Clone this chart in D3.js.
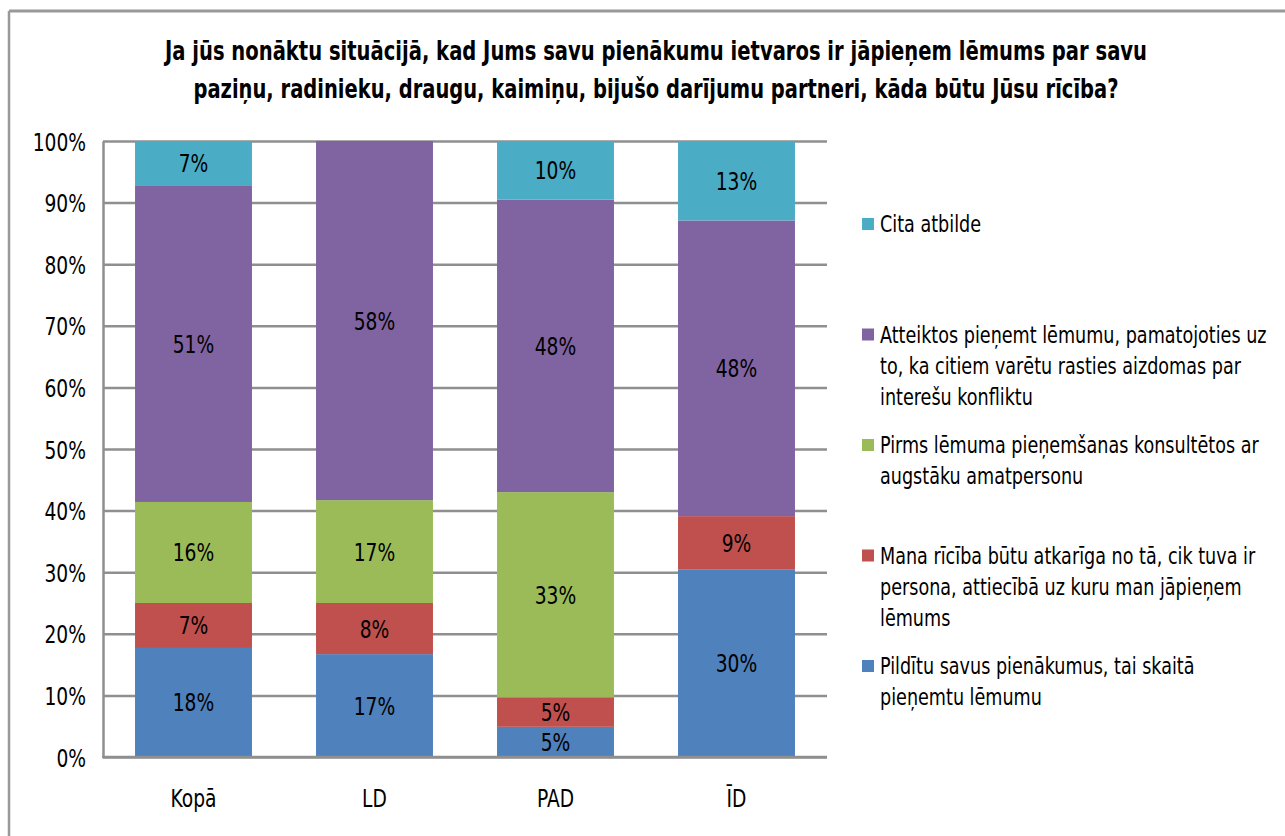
<!DOCTYPE html>
<html>
<head>
<meta charset="utf-8">
<script src="https://cdn.jsdelivr.net/npm/d3@7"></script>
<style>
  body { margin: 0; background: #fff; }
  text { font-family: "DejaVu Sans Condensed", "DejaVu Sans", sans-serif; fill: #000; }
</style>
</head>
<body>
<div id="VizBox"></div>
<script>

var categories = ["Kopā", "LD", "PAD", "ĪD"];

// shares in %
var pilditu   = [17.7, 16.7, 4.9, 30.4];
var mana      = [7.3, 8.3, 4.8, 8.7];
var pirms     = [16.4, 16.7, 33.3, 0];
var atteiktos = [51.3, 58.3, 47.5, 48.0];
var cita      = [7.3, 0, 9.5, 12.9];

var seriesNames = ["Pildītu", "Mana", "Pirms", "Atteiktos", "Cita"];
var seriesColors = ["#4F81BD", "#C0504D", "#9BBB59", "#8064A2", "#4BACC6"];

// legend texts, top to bottom, already wrapped
var legendLines = [
  ["Cita atbilde"],
  ["Atteiktos pieņemt lēmumu, pamatojoties uz", "to, ka citiem varētu rasties aizdomas par", "interešu konfliktu"],
  ["Pirms lēmuma pieņemšanas konsultētos ar", "augstāku amatpersonu"],
  ["Mana rīcība būtu atkarīga no tā, cik tuva ir", "persona, attiecībā uz kuru man jāpieņem", "lēmums"],
  ["Pildītu savus pienākumus, tai skaitā", "pieņemtu lēmumu"]
];
var legendColors = ["#4BACC6", "#8064A2", "#9BBB59", "#C0504D", "#4F81BD"];

var titleLines = [
  "Ja jūs nonāktu situācijā, kad Jums savu pienākumu ietvaros ir jāpieņem lēmums par savu",
  "paziņu, radinieku, draugu, kaimiņu, bijušo darījumu partneri, kāda būtu Jūsu rīcība?"
];

var yTicks = [0, 10, 20, 30, 40, 50, 60, 70, 80, 90, 100];

var W = 1285, H = 836;
var plot = {left: 103, right: 827, top: 141, bottom: 757};

// the original font is narrower than what we have, squeeze glyphs horizontally
function squeeze(sel, k) {
  sel.each(function() {
    var w = this.getComputedTextLength();
    d3.select(this).attr("textLength", w * k).attr("lengthAdjust", "spacingAndGlyphs");
  });
}

var svg = d3.select("#VizBox")
.append("svg")
  .attr("width", W)
  .attr("height", H);

// outer chart border (cut off on the right and bottom)
svg.append("line")
  .attr("x1", 9).attr("x2", W).attr("y1", 11).attr("y2", 11)
  .attr("stroke", "#999").attr("stroke-width", 3);
svg.append("line")
  .attr("x1", 9).attr("x2", 9).attr("y1", 11).attr("y2", H)
  .attr("stroke", "#999").attr("stroke-width", 2.5);

// title
svg.append("g").selectAll("text")
  .data(titleLines)
  .enter().append("text")
    .attr("x", 656)
    .attr("y", function(d, i) { return 60 + i * 38; })
    .attr("text-anchor", "middle")
    .attr("font-size", 27)
    .attr("font-weight", "bold")
    .attr("textLength", function(d, i) { return i == 0 ? 982 : 925; })
    .attr("lengthAdjust", "spacingAndGlyphs")
    .text(function(d) { return d; });

var x = d3.scaleBand()
  .domain(categories)
  .range([plot.left, plot.right])
  .paddingInner(0.354)
  .paddingOuter(0.177);

var y = d3.scaleLinear()
  .domain([0, 100])
  .range([plot.bottom, plot.top]);

// y axis with gridlines
var yAxis = svg.append("g")
  .attr("transform", "translate(" + plot.left + ",0)")
  .call(d3.axisLeft(y)
    .tickValues(yTicks)
    .tickSize(-(plot.right - plot.left))
    .tickSizeOuter(0)
    .tickPadding(17)
    .tickFormat(function(d) { return d + "%"; }));
yAxis.selectAll(".tick line").attr("stroke", "#8f8f8f").attr("stroke-width", 2.5);
yAxis.select(".domain").attr("stroke", "#8f8f8f").attr("stroke-width", 2.5);
yAxis.selectAll(".tick text")
  .attr("font-size", 25)
  .attr("font-family", null)
  .attr("fill", "#000")
  .attr("dy", "0.36em")
  .call(squeeze, 0.83);

// stacked data
var rows = categories.map(function(c, i) {
  return {group: c, Pildītu: pilditu[i], Mana: mana[i], Pirms: pirms[i], Atteiktos: atteiktos[i], Cita: cita[i]};
});
var stacked = d3.stack().keys(seriesNames)(rows);

var layers = svg.append("g").selectAll("g")
  .data(stacked)
  .enter().append("g")
    .attr("fill", function(d, i) { return seriesColors[i]; });

layers.selectAll("rect")
  .data(function(d) { return d; })
  .enter().append("rect")
    .attr("x", function(d) { return x(d.data.group); })
    .attr("y", function(d) { return y(d[1]); })
    .attr("width", x.bandwidth())
    .attr("height", function(d) { return y(d[0]) - y(d[1]); });

// data labels
layers.selectAll("text")
  .data(function(d) { return d.filter(function(s) { return s[1] - s[0] > 0; }); })
  .enter().append("text")
    .attr("x", function(d) { return x(d.data.group) + x.bandwidth() / 2; })
    .attr("y", function(d) { return (y(d[0]) + y(d[1])) / 2; })
    .attr("dy", "0.36em")
    .attr("text-anchor", "middle")
    .attr("font-size", 25)
    .style("fill", "#000")
    .text(function(d) { return Math.round(d[1] - d[0]) + "%"; })
    .call(squeeze, 0.83);

// bottom axis line and category labels
svg.append("line")
  .attr("x1", plot.left - 1).attr("x2", plot.right)
  .attr("y1", plot.bottom).attr("y2", plot.bottom)
  .attr("stroke", "#8f8f8f").attr("stroke-width", 2.5);

svg.append("g").selectAll("text")
  .data(categories)
  .enter().append("text")
    .attr("x", function(d) { return x(d) + x.bandwidth() / 2; })
    .attr("y", 807)
    .attr("text-anchor", "middle")
    .attr("font-size", 25)
    .text(function(d) { return d; })
    .call(squeeze, 0.83);

// legend
var legend = svg.append("g").selectAll("g")
  .data(legendLines)
  .enter().append("g")
    .attr("transform", function(d, i) { return "translate(862," + (224 + i * 110.5) + ")"; });

legend.append("rect")
  .attr("x", 0).attr("y", -6)
  .attr("width", 12).attr("height", 12)
  .attr("fill", function(d, i) { return legendColors[i]; });

legend.selectAll("text")
  .data(function(d) { return d; })
  .enter().append("text")
    .attr("x", 18)
    .attr("y", function(d, i) { return i * 31; })
    .attr("dy", "0.36em")
    .attr("font-size", 23)
    .text(function(d) { return d; })
    .call(squeeze, 0.85);

</script>
</body>
</html>
